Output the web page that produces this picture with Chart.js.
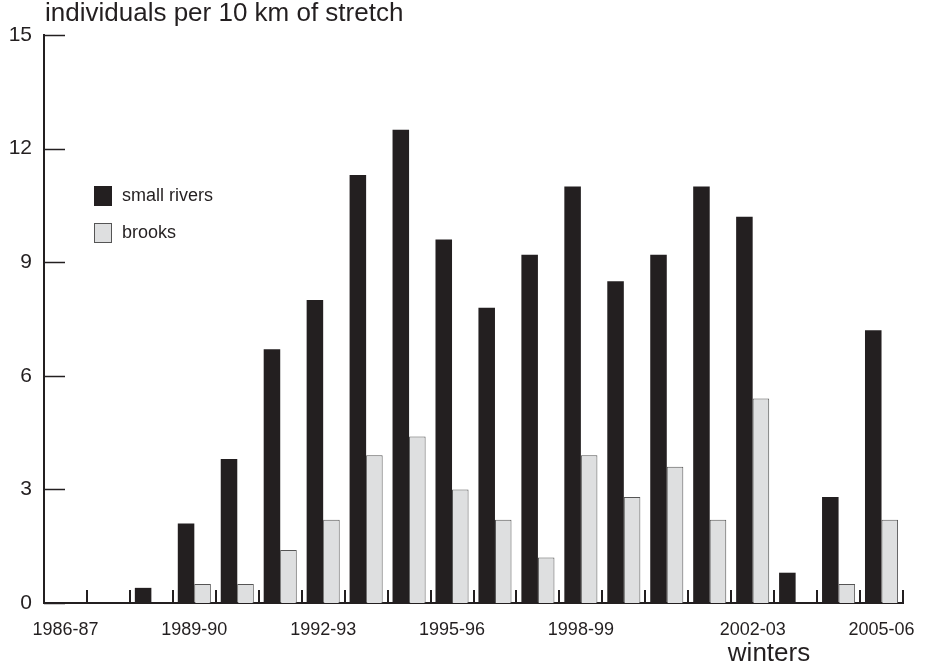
<!DOCTYPE html>
<html>
<head>
<meta charset="utf-8">
<script src="https://cdn.jsdelivr.net/npm/chart.js@4"></script>
<style>
  body { margin: 0; background: #fff; }
  #chart { display: block; }
</style>
</head>
<body>
<canvas id="chart" width="933" height="667"></canvas>
<script>
// winters on the x axis, one category each
const winters = ["1986-87","1987-88","1988-89","1989-90","1990-91","1991-92","1992-93",
  "1993-94","1994-95","1995-96","1996-97","1997-98","1998-99","1999-00","2000-01",
  "2001-02","2002-03","2003-04","2004-05","2005-06"];
// only some of them carry a label in the figure
const tickLabels = ["1986-87","","","1989-90","","","1992-93","","","1995-96","","",
  "1998-99","","","","2002-03","","","2005-06"];
// individuals per 10 km of stretch
const smallRivers = [null,null,0.4,2.1,3.8,6.7,8.0,11.3,12.5,9.6,7.8,9.2,11.0,8.5,9.2,11.0,10.2,0.8,2.8,7.2];
const brooks = [null,null,null,0.5,0.5,1.4,2.2,3.9,4.4,3.0,2.2,1.2,3.9,2.8,3.6,2.2,5.4,null,0.5,2.2];
const yTicks = [0,3,6,9,12,15];

const ink = "#231f20";
const font = "'Liberation Sans', Arial, sans-serif";

// inward tick marks, legend and titles
const extras = {
  id: "extras",
  afterDraw(chart) {
    const ctx = chart.ctx;
    const a = chart.chartArea;
    const ys = chart.scales.y;
    ctx.save();
    ctx.strokeStyle = ink;
    ctx.lineWidth = 1.5;
    yTicks.forEach((v) => {
      const y = Math.round(ys.getPixelForValue(v)) + 0.5;
      ctx.beginPath();
      ctx.moveTo(a.left, y);
      ctx.lineTo(a.left + 21, y);
      ctx.stroke();
    });
    ctx.lineWidth = 2;
    const w = (a.right - a.left) / winters.length;
    for (let k = 1; k <= winters.length; k++) {
      const x = Math.round(a.left + k * w);
      ctx.beginPath();
      ctx.moveTo(x, a.bottom);
      ctx.lineTo(x, a.bottom - 13);
      ctx.stroke();
    }

    // legend
    const sets = chart.data.datasets;
    const rows = [186, 223];
    sets.forEach((ds, i) => {
      ctx.fillStyle = ds.backgroundColor;
      ctx.fillRect(94, rows[i], 18, 20);
      ctx.lineWidth = 1;
      ctx.strokeStyle = ds.borderColor;
      ctx.strokeRect(94.5, rows[i] + 0.5, 17, 19);
      ctx.fillStyle = ink;
      ctx.font = "18px " + font;
      ctx.textBaseline = "middle";
      ctx.fillText(ds.label, 122, rows[i] + 10);
    });

    ctx.fillStyle = ink;
    ctx.textBaseline = "alphabetic";
    ctx.font = "26px " + font;
    ctx.textAlign = "left";
    ctx.fillText("individuals per 10 km of stretch", 45, 21);
    ctx.textAlign = "center";
    ctx.fillText("winters", 769, 661);
    ctx.restore();
  }
};

new Chart(document.getElementById("chart"), {
  type: "bar",
  data: {
    labels: winters,
    datasets: [
      {
        label: "small rivers",
        data: smallRivers,
        backgroundColor: ink,
        borderColor: ink,
        borderWidth: 0
      },
      {
        label: "brooks",
        data: brooks,
        backgroundColor: "#dedfe0",
        borderColor: "#555555",
        borderWidth: 1
      }
    ]
  },
  options: {
    responsive: false,
    animation: false,
    devicePixelRatio: 1,
    layout: { padding: { left: 0, right: 30, top: 35, bottom: 0 } },
    datasets: { bar: { categoryPercentage: 0.77, barPercentage: 1.0 } },
    plugins: {
      legend: { display: false },
      tooltip: { enabled: false }
    },
    scales: {
      x: {
        grid: { display: false },
        border: { display: true, color: ink, width: 2 },
        afterFit: (s) => { s.height = 64; },
        ticks: {
          autoSkip: false,
          maxRotation: 0,
          padding: 8,
          color: ink,
          font: { family: font, size: 18 },
          callback: (v, i) => tickLabels[i]
        }
      },
      y: {
        min: 0,
        max: 15,
        grid: { display: false },
        border: { display: true, color: ink, width: 2 },
        afterFit: (s) => { s.width = 44; },
        afterBuildTicks: (s) => { s.ticks = yTicks.map((v) => ({ value: v })); },
        ticks: {
          padding: 4,
          color: ink,
          font: { family: font, size: 21 }
        }
      }
    }
  },
  plugins: [extras]
});
</script>
</body>
</html>
